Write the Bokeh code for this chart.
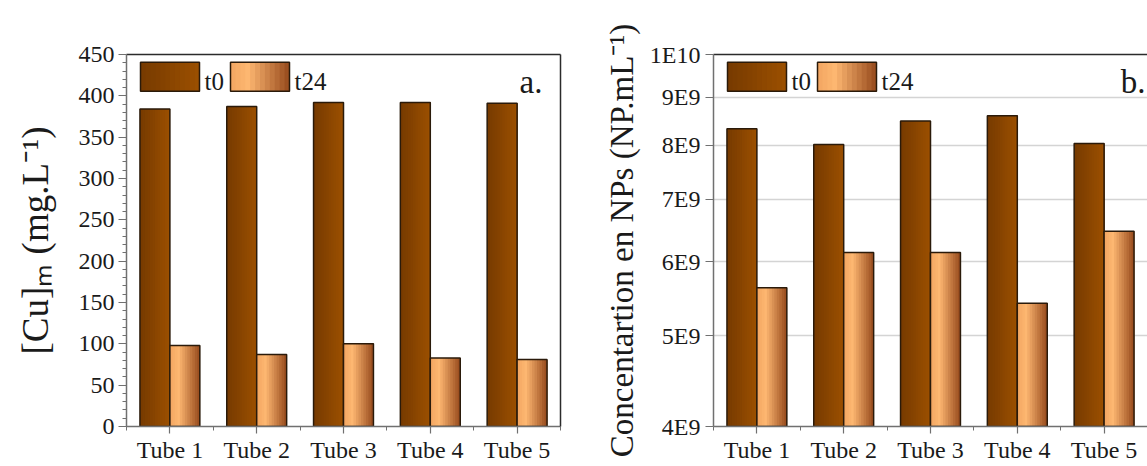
import numpy as np
from bokeh.plotting import figure
from bokeh.layouts import row
from bokeh.models import (Range1d, LinearScale, FixedTicker, CustomJSTickFormatter,
                          LinearAxis, Label, ColumnDataSource)
from bokeh.embed import file_html
from bokeh.resources import INLINE

# ---------------- data ----------------
tubes = ["Tube 1", "Tube 2", "Tube 3", "Tube 4", "Tube 5"]
series = ["t0", "t24"]
cu_t0 = [384, 387, 392, 392, 391]
cu_t24 = [98, 87, 100, 83, 81]
np_t0 = [8.33e9, 8.01e9, 8.49e9, 8.60e9, 8.03e9]
np_t24 = [5.63e9, 6.14e9, 6.14e9, 5.42e9, 6.47e9]
cu_ticks = [0, 50, 100, 150, 200, 250, 300, 350, 400, 450]
np_ticks = [4e9, 5e9, 6e9, 7e9, 8e9, 9e9, 1e10]
cu_title = "[Cu]ₘ (mg.L⁻¹)"
np_title = "Concentartion en NPs (NP.mL⁻¹)"

# ---------------- style ----------------
FONT = "Liberation Serif"
T0_STOPS = [(0.0, (0x76, 0x3a, 0x00)), (1.0, (0x9c, 0x50, 0x00))]
T24_STOPS = [(0.0, (0xf2, 0xa6, 0x62)), (0.3, (0xfd, 0xb7, 0x71)), (1.0, (0x96, 0x4a, 0x1c))]
STOPS = {"t0": T0_STOPS, "t24": T24_STOPS}
NSTRIP = 12
BAR_W = 0.345
EDGE = "#2a1a0a"
AXIS_GRAY = "#707070"
TXT = "#1a1a1a"

H = 466
TOP = 54
BOT = 40
FH = H - TOP - BOT


def grad(stops, t):
    for (t0, c0), (t1, c1) in zip(stops[:-1], stops[1:]):
        if t <= t1:
            f = 0 if t1 == t0 else (t - t0) / (t1 - t0)
            c = [round(a + (b - a) * f) for a, b in zip(c0, c1)]
            return "#%02x%02x%02x" % tuple(c)
    return "#%02x%02x%02x" % stops[-1][1]


def gradient_quads(p, lefts, widths, tops, bottoms, stops, **kw):
    # successive overlapping strips, each running to the bar's right edge,
    # give a seamless horizontal colour gradient
    d = dict(left=[], right=[], top=[], bottom=[], color=[])
    for L, w, t, b in zip(lefts, widths, tops, bottoms):
        for k in range(NSTRIP):
            d["left"].append(L + w * k / NSTRIP)
            d["right"].append(L + w)
            d["top"].append(t)
            d["bottom"].append(b)
            d["color"].append(grad(stops, (k + 0.5) / NSTRIP))
    p.quad(left="left", right="right", top="top", bottom="bottom", source=ColumnDataSource(d),
           fill_color="color", line_color=None, **kw)
    p.quad(left=list(lefts), right=[L + w for L, w in zip(lefts, widths)], top=list(tops),
           bottom=list(bottoms), fill_color=None, line_color=EDGE, line_width=1.5, **kw)


def style_axis(ax, size="24px"):
    ax.axis_line_color = AXIS_GRAY
    ax.axis_line_width = 1.5
    ax.major_tick_line_color = AXIS_GRAY
    ax.minor_tick_line_color = AXIS_GRAY
    ax.major_tick_line_width = 1.2
    ax.major_tick_in = 0
    ax.minor_tick_in = 0
    ax.major_label_text_font = FONT
    ax.major_label_text_font_size = size
    ax.major_label_text_color = TXT
    ax.axis_label_text_font = FONT
    ax.axis_label_text_font_style = "normal"
    ax.axis_label_text_color = TXT


def plain_line_axis(p, side):
    ax = LinearAxis(ticker=FixedTicker(ticks=[]), major_label_text_font_size="0px",
                    axis_line_color="#2b2b2b", axis_line_width=1.5,
                    major_tick_out=0, minor_tick_out=0, major_label_standoff=0)
    p.add_layout(ax, side)


def make_panel(width, border_left, border_right, fw, values_t0, values_t24, base,
               y_range, log, letter, letter_right, title, title_size, title_standoff):
    n = len(tubes)
    p = figure(width=width, height=H, x_range=Range1d(0.5, n + 0.5), y_range=y_range,
               y_axis_type="log" if log else "linear",
               output_backend="svg", toolbar_location=None,
               min_border_left=border_left, min_border_right=border_right,
               min_border_top=TOP, min_border_bottom=BOT)
    p.outline_line_color = None
    p.background_fill_color = "white"
    p.border_fill_color = "white"
    p.xgrid.visible = False

    # pixel helper ranges for layout items (legend, texts)
    p.extra_x_ranges = {"px": Range1d(0, fw)}
    p.extra_y_ranges = {"px": Range1d(FH, 0)}
    p.extra_x_scales = {"px": LinearScale()}
    p.extra_y_scales = {"px": LinearScale()}

    # x axis
    xax = p.xaxis[0]
    xax.ticker = FixedTicker(ticks=list(range(1, n + 1)),
                             minor_ticks=[i + 0.5 for i in range(0, n + 1)])
    xax.formatter = CustomJSTickFormatter(args=dict(labels=tubes), code="""
        const i = Math.round(tick) - 1;
        return (i >= 0 && i < labels.length) ? labels[i] : "";""")
    style_axis(xax)
    xax.major_tick_out = 7
    xax.minor_tick_out = 4
    xax.major_label_standoff = 3

    # y axis
    yax = p.yaxis[0]
    style_axis(yax)
    yax.major_tick_out = 8
    yax.minor_tick_out = 4
    yax.axis_label = title
    yax.axis_label_standoff = title_standoff
    yax.axis_label_text_font_size = f"{title_size}px"
    if log:
        yax.ticker = FixedTicker(ticks=np_ticks)
        yax.formatter = CustomJSTickFormatter(code="""
            const e = Math.floor(Math.log10(tick) + 1e-9);
            const m = Math.round(tick / Math.pow(10, e));
            return m + "E" + e;""")
        yax.major_label_standoff = 5
        p.ygrid.ticker = FixedTicker(ticks=np_ticks)
        p.ygrid.grid_line_color = "#d4d4d4"
        p.ygrid.grid_line_width = 1.6
    else:
        yax.ticker = FixedTicker(ticks=cu_ticks,
                                 minor_ticks=list(np.arange(cu_ticks[0], cu_ticks[-1] + 1, 10)))
        yax.major_label_standoff = 4
        p.ygrid.visible = False

    plain_line_axis(p, "above")
    if border_right:
        plain_line_axis(p, "right")

    # bars
    xs = np.arange(1, n + 1, dtype=float)
    gradient_quads(p, xs - BAR_W, [BAR_W] * n, values_t0, [base] * n, STOPS["t0"])
    gradient_quads(p, xs, [BAR_W] * n, values_t24, [base] * n, STOPS["t24"])

    # legend (pixel coordinates from frame top-left)
    sw_l = [14, 104]
    for s, L in zip(series, sw_l):
        gradient_quads(p, [L], [59], [7.7], [36.7], STOPS[s],
                       x_range_name="px", y_range_name="px")
        p.add_layout(Label(x=L + 64, y=26.5, text=s, text_font=FONT, text_font_size="25px",
                           text_color=TXT, text_baseline="alphabetic",
                           x_range_name="px", y_range_name="px"))
    p.add_layout(Label(x=letter_right, y=27, text=letter, text_font=FONT,
                       text_font_size="33px", text_color=TXT, text_align="right",
                       text_baseline="alphabetic", x_range_name="px", y_range_name="px"))
    return p


p1 = make_panel(580, 126, 20, 434, cu_t0, cu_t24, 0, Range1d(cu_ticks[0], cu_ticks[-1]),
                False, "a.", 416, cu_title, 37, 20)
p2 = make_panel(567, 133, 0, 434, np_t0, np_t24, np_ticks[0], Range1d(np_ticks[0], np_ticks[-1]),
                True, "b.", 432, np_title, 33, 7)

layout = row(p1, p2)
open("out.html", "w").write(file_html(layout, INLINE))
